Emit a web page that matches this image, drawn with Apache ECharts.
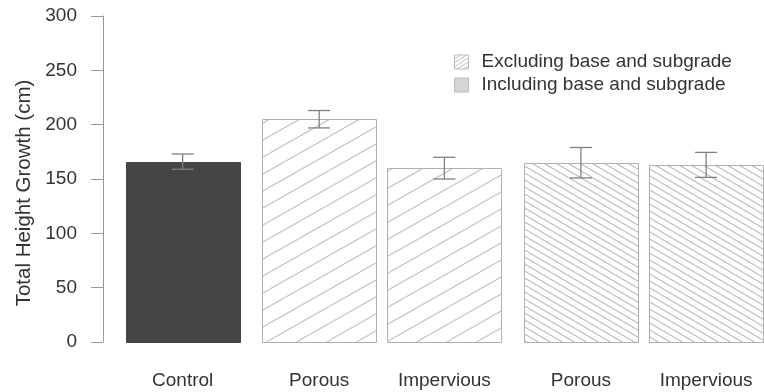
<!DOCTYPE html>
<html>
<head>
<meta charset="utf-8">
<script src="https://cdn.jsdelivr.net/npm/echarts@6/dist/echarts.min.js"></script>
<style>
  html, body { margin: 0; padding: 0; background: #fff; }
  #chart { width: 764px; height: 392px; }
</style>
</head>
<body>
<div id="chart"></div>
<script>
// Treatment groups along the x axis
const categories = ['Control', 'Porous', 'Impervious', 'Porous', 'Impervious'];
// Mean total height growth (cm) and error half-widths
const means = [166, 205, 160, 165, 163];
const errors = [7, 8, 10, 14, 11.5];
// Which group each bar belongs to
const groupOf = ['control', 'excluding', 'excluding', 'including', 'including'];
const legendNames = ['Excluding base and subgrade', 'Including base and subgrade'];
const yTicks = [0, 50, 100, 150, 200, 250, 300];

// Bar layout in bar-width units (space before each bar, as in a grouped barplot)
const spaceBefore = [0.2, 0.2, 0.1, 0.2, 0.1];
const barLefts = [];
let cursor = 0;
spaceBefore.forEach((s, i) => { cursor += s; barLefts.push(cursor); cursor += 1; });
const barCenters = barLefts.map(l => l + 0.5);

const FONT = '"Liberation Sans", Arial, sans-serif';
const TEXT = '#333';
const AXIS = '#999';

// Seamless diagonal hatch tile: w x h, lines rising ("/") or falling ("\")
function hatch(w, h, rising, color, lw) {
  const c = document.createElement('canvas');
  c.width = w; c.height = h;
  const g = c.getContext('2d');
  g.fillStyle = '#fff';
  g.fillRect(0, 0, w, h);
  g.strokeStyle = color;
  g.lineWidth = lw;
  for (let k = -1; k <= 1; k++) {
    g.beginPath();
    if (rising) { g.moveTo(0, h + k * h); g.lineTo(w, k * h); }
    else { g.moveTo(0, k * h); g.lineTo(w, h + k * h); }
    g.stroke();
  }
  return { image: c, repeat: 'repeat' };
}

const styles = {
  control:   { fill: '#454545', stroke: '#454545' },
  excluding: { fill: hatch(30, 17, true, '#c4c4c4', 1.1), stroke: '#b0b0b0' },
  including: { fill: hatch(12, 7, false, '#c0c0c0', 1.2), stroke: '#b0b0b0' }
};

const barData = categories.map((c, i) => [barLefts[i], barLefts[i] + 1, means[i], errors[i], i]);

function renderBar(params, api) {
  const i = api.value(4);
  const st = styles[groupOf[i]];
  const p0 = api.coord([api.value(0), 0]);
  const p1 = api.coord([api.value(1), api.value(2)]);
  const cx = api.coord([(api.value(0) + api.value(1)) / 2, 0])[0];
  const hi = api.coord([0, api.value(2) + api.value(3)])[1];
  const lo = api.coord([0, api.value(2) - api.value(3)])[1];
  const cap = 11;
  const es = { stroke: '#808080', lineWidth: 1.3 };
  return {
    type: 'group',
    children: [
      { type: 'rect',
        shape: { x: Math.round(p0[0]) + 0.5, y: Math.round(p1[1]) + 0.5,
                 width: Math.round(p1[0] - p0[0]), height: Math.round(p0[1] - p1[1]) },
        style: { fill: st.fill, stroke: st.stroke, lineWidth: 1 } },
      { type: 'line', shape: { x1: cx, y1: hi, x2: cx, y2: lo }, style: es },
      { type: 'line', shape: { x1: cx - cap, y1: hi, x2: cx + cap, y2: hi }, style: es },
      { type: 'line', shape: { x1: cx - cap, y1: lo, x2: cx + cap, y2: lo }, style: es }
    ]
  };
}

function seriesFor(group, name) {
  return {
    type: 'custom',
    name: name,
    renderItem: renderBar,
    encode: { x: [0, 1], y: 2 },
    data: barData.filter(d => groupOf[d[4]] === group),
    itemStyle: { color: group === 'control' ? '#454545' : '#d4d4d4' },
    silent: true
  };
}

const chart = echarts.init(document.getElementById('chart'), null, { renderer: 'canvas' });
chart.setOption({
  animation: false,
  backgroundColor: '#fff',
  grid: { left: 103, right: 1, top: 16, bottom: 50 },
  legend: {
    orient: 'vertical',
    left: 449,
    top: 47,
    itemWidth: 14,
    itemHeight: 14,
    itemGap: 3,
    icon: 'rect',
    selectedMode: false,
    textStyle: { fontFamily: FONT, fontSize: 19, color: TEXT, padding: [0, 0, 0, 8], lineHeight: 20 },
    data: [
      { name: legendNames[0], itemStyle: { color: hatch(6, 4, true, '#bdbdbd', 1), borderColor: '#bbb', borderWidth: 1 } },
      { name: legendNames[1], itemStyle: { color: '#d6d6d6', borderColor: '#bbb', borderWidth: 1 } }
    ]
  },
  xAxis: {
    type: 'value',
    min: 0,
    max: 5.8,
    axisLine: { show: false },
    axisTick: { show: false },
    splitLine: { show: false },
    axisLabel: {
      customValues: barCenters,
      margin: 29,
      fontFamily: FONT,
      fontSize: 19,
      color: TEXT,
      formatter: v => {
        const i = barCenters.findIndex(c => Math.abs(c - v) < 1e-6);
        return i >= 0 ? categories[i] : '';
      }
    }
  },
  yAxis: {
    type: 'value',
    min: yTicks[0],
    max: yTicks[yTicks.length - 1],
    interval: 50,
    offset: 4,
    name: 'Total Height Growth (cm)',
    nameLocation: 'middle',
    nameGap: 64,
    nameTextStyle: { fontFamily: FONT, fontSize: 20.5, color: TEXT, padding: [0, 28, 0, 0] },
    axisLine: { show: true, lineStyle: { color: AXIS, width: 1 } },
    axisTick: { show: true, length: 12, lineStyle: { color: AXIS } },
    splitLine: { show: false },
    axisLabel: { margin: 22, fontFamily: FONT, fontSize: 19, color: TEXT }
  },
  series: [
    seriesFor('control', 'Control'),
    seriesFor('excluding', legendNames[0]),
    seriesFor('including', legendNames[1])
  ]
});
</script>
</body>
</html>
